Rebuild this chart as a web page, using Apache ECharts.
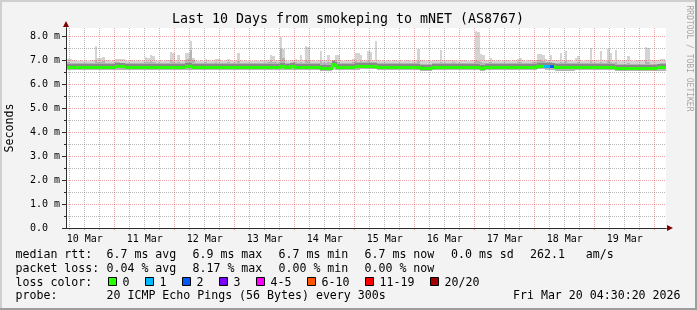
<!DOCTYPE html>
<html><head><meta charset="utf-8">
<script src="https://cdn.jsdelivr.net/npm/echarts@6/dist/echarts.min.js"></script>
<style>html,body{margin:0;padding:0;background:#f3f3f3;}#c{width:697px;height:310px;}</style>
</head><body><div id="c"></div><script>
// ---------- data (hours since Mar 10 00:00, one column per hour starting at 04:00) ----------
const startHour = 4;
const viewMin = 4 + 30 / 60 + 20 / 3600;   // Mar 10 04:30:20
const viewMax = viewMin + 240;             // Mar 20 04:30:20

const dayLabels = ['10 Mar','11 Mar','12 Mar','13 Mar','14 Mar','15 Mar','16 Mar','17 Mar','18 Mar','19 Mar'];
const dayLabelHours = [12,36,60,84,108,132,156,180,204,228];
const midnightHours = [24,48,72,96,120,144,168,192,216,240];
const yTickValues = [0,1,2,3,4,5,6,7,8];
const yMinorValues = [0.5,1.5,2.5,3.5,4.5,5.5,6.5,7.5];

// median rtt (ms)
const medianRtt = [
 6.70,6.70,6.70,6.70,6.70,6.70,6.70,6.70,6.70,6.70,6.70,6.70,6.70,6.70,6.70,6.70,6.70,6.70,6.70,6.70,
 6.71,6.71,6.71,6.71,6.70,6.70,6.70,6.70,6.70,6.70,6.70,6.70,6.70,6.70,6.70,6.70,6.70,6.70,6.70,6.70,6.70,6.70,6.70,6.70,
 6.70,6.70,6.70,6.70,6.71,6.71,6.72,6.70,6.70,6.70,6.70,6.70,6.70,6.70,6.70,6.70,6.70,6.70,6.70,6.70,6.70,6.70,6.70,6.70,
 6.70,6.70,6.70,6.70,6.70,6.70,6.70,6.70,6.70,6.70,6.70,6.70,6.70,6.70,6.70,6.70,6.70,6.70,6.72,6.72,6.70,6.70,6.72,6.72,
 6.70,6.70,6.70,6.70,6.70,6.70,6.68,6.68,6.68,6.68,6.65,6.65,6.65,6.65,6.65,6.82,6.77,6.70,6.70,6.70,6.70,6.70,6.70,6.70,
 6.71,6.72,6.75,6.75,6.75,6.75,6.75,6.75,6.74,6.70,6.70,6.70,6.70,6.70,6.70,6.70,6.70,6.70,6.70,6.70,6.70,6.70,6.70,6.70,
 6.70,6.70,6.64,6.64,6.64,6.64,6.64,6.69,6.69,6.69,6.69,6.69,6.69,6.69,6.69,6.69,6.69,6.69,6.69,6.69,6.69,6.69,6.69,6.69,
 6.69,6.69,6.65,6.65,6.70,6.70,6.70,6.70,6.70,6.70,6.70,6.70,6.70,6.70,6.70,6.70,6.70,6.70,6.70,6.70,6.70,6.70,6.70,6.70,
 6.70,6.74,6.74,6.74,6.71,6.71,6.71,6.71,6.68,6.68,6.68,6.68,6.68,6.68,6.68,6.68,6.69,6.69,6.69,6.69,6.69,6.69,6.69,6.69,
 6.69,6.69,6.69,6.69,6.69,6.69,6.69,6.69,6.65,6.65,6.65,6.65,6.65,6.65,6.65,6.65,6.65,6.65,6.65,6.65,6.65,6.65,6.65,6.65,
 6.66,6.67,6.67,6.67,6.67
];
// smoke: lowest ping, top of the dense band, highest ping (ms)
const smokeLow = [
 6.58,6.58,6.57,6.58,6.58,6.57,6.58,6.58,6.57,6.58,6.58,6.57,6.58,6.58,6.57,6.58,6.58,6.57,6.58,6.58,
 6.58,6.57,6.58,6.58,6.57,6.58,6.58,6.57,6.58,6.58,6.57,6.58,6.58,6.57,6.58,6.58,6.57,6.58,6.58,6.57,6.58,6.58,6.57,6.58,
 6.58,6.57,6.58,6.58,6.57,6.58,6.58,6.57,6.58,6.58,6.57,6.58,6.58,6.57,6.58,6.58,6.57,6.58,6.58,6.57,6.58,6.58,6.57,6.58,
 6.58,6.57,6.58,6.58,6.57,6.58,6.58,6.57,6.58,6.58,6.57,6.58,6.58,6.57,6.58,6.58,6.57,6.58,6.58,6.57,6.58,6.58,6.57,6.58,
 6.58,6.57,6.58,6.58,6.57,6.58,6.58,6.57,6.58,6.57,6.55,6.54,6.55,6.54,6.55,6.62,6.60,6.58,6.57,6.58,6.58,6.57,6.58,6.58,
 6.58,6.58,6.62,6.62,6.62,6.62,6.62,6.62,6.62,6.58,6.57,6.58,6.58,6.57,6.58,6.58,6.57,6.58,6.58,6.57,6.58,6.58,6.57,6.58,
 6.58,6.57,6.53,6.53,6.53,6.53,6.53,6.57,6.58,6.58,6.57,6.58,6.58,6.57,6.58,6.58,6.57,6.58,6.58,6.57,6.58,6.58,6.57,6.58,
 6.58,6.57,6.54,6.54,6.58,6.57,6.58,6.58,6.57,6.58,6.58,6.57,6.58,6.58,6.57,6.58,6.58,6.57,6.58,6.58,6.57,6.58,6.58,6.57,
 6.58,6.61,6.61,6.61,6.59,6.59,6.59,6.59,6.56,6.56,6.56,6.56,6.56,6.56,6.56,6.56,6.57,6.57,6.57,6.57,6.57,6.57,6.57,6.57,
 6.57,6.57,6.57,6.57,6.57,6.57,6.57,6.57,6.54,6.54,6.54,6.54,6.54,6.54,6.54,6.54,6.54,6.54,6.54,6.54,6.54,6.54,6.54,6.54,
 6.55,6.55,6.55,6.55,6.55
];
const smokeUpper = [
 6.90,6.90,6.89,6.89,6.88,6.89,6.88,6.89,6.88,6.89,6.88,6.89,7.00,6.92,6.92,6.95,6.89,6.88,6.89,6.88,
 6.90,6.90,6.89,6.89,6.88,6.89,6.88,6.89,6.88,6.89,6.88,6.89,6.92,6.90,6.95,6.92,6.88,6.89,6.88,6.89,6.88,6.89,6.98,6.92,
 6.89,6.92,6.88,6.89,6.98,7.05,7.40,6.98,6.89,6.88,6.89,6.88,6.90,6.88,6.89,6.88,6.90,6.89,6.88,6.89,6.88,6.90,6.88,6.89,
 6.89,6.95,6.88,6.89,6.88,6.89,6.88,6.89,6.88,6.89,6.88,6.89,6.88,6.90,6.98,6.92,6.90,6.89,7.45,7.10,6.89,6.88,6.89,6.90,
 6.90,6.89,6.92,6.88,7.00,6.95,6.88,6.87,6.86,6.86,6.95,6.86,6.86,6.90,6.87,6.98,6.98,6.92,6.89,6.88,6.89,6.88,6.89,6.90,
 6.95,6.92,6.95,6.93,6.92,6.95,6.93,6.92,6.93,6.89,6.88,6.89,6.88,6.89,6.88,6.89,6.88,6.89,6.88,6.89,6.88,6.89,6.88,6.89,
 6.89,6.95,6.85,6.84,6.84,6.85,6.84,6.88,6.89,6.88,6.92,6.89,6.88,6.89,6.88,6.90,6.88,6.89,6.88,6.89,6.88,6.89,6.88,6.89,
 7.00,6.95,6.90,6.88,6.89,6.88,6.90,6.88,6.89,6.88,6.89,6.88,6.89,6.88,6.89,6.88,6.89,6.90,6.92,6.88,6.89,6.88,6.89,6.90,
 6.90,6.98,6.98,6.95,6.92,6.90,6.92,6.89,6.87,6.87,6.92,6.86,6.95,6.87,6.86,6.87,6.88,6.90,6.88,6.87,6.88,6.87,6.95,6.87,
 6.88,6.87,6.92,6.87,6.88,6.95,6.90,6.87,6.90,6.85,6.84,6.85,6.84,6.88,6.85,6.84,6.85,6.84,6.85,6.84,6.98,6.92,6.85,6.84,
 6.85,6.85,6.88,6.88,6.86
];
const smokeMax = [
 7.03,7.03,7.03,7.02,6.98,6.97,6.98,6.96,6.98,6.97,6.98,6.99,7.58,7.10,7.10,7.14,7.00,6.98,6.97,6.98,
 7.06,7.06,7.06,7.05,6.98,6.97,6.99,6.98,6.96,6.98,6.97,6.99,7.12,7.10,7.20,7.18,6.98,6.97,6.98,6.96,6.98,6.99,7.34,7.30,
 6.98,7.20,6.99,6.98,7.30,7.28,7.80,7.10,6.98,6.97,6.98,6.97,7.05,6.98,6.96,6.98,7.05,7.05,6.98,6.97,6.99,7.05,6.98,6.97,
 6.98,7.30,6.99,6.97,6.98,6.96,6.95,6.97,6.98,6.97,6.98,6.99,6.98,7.00,7.20,7.18,7.00,6.99,7.95,7.45,6.98,6.97,6.99,6.98,
 7.05,6.99,7.20,6.98,7.60,7.55,6.99,6.98,6.97,6.98,7.37,6.98,6.99,7.20,6.98,7.00,7.22,7.20,6.98,6.97,6.98,6.99,6.98,7.05,
 7.30,7.28,7.22,7.00,6.98,7.36,7.34,6.99,7.78,6.98,6.97,6.98,6.96,6.98,6.97,6.98,6.99,6.97,6.98,6.96,6.98,6.99,6.97,6.98,
 6.99,7.47,7.00,6.98,6.97,6.98,6.96,6.98,6.99,6.98,7.40,6.99,6.98,7.00,6.99,7.01,6.98,6.97,6.98,7.00,6.98,6.97,6.98,7.00,
 8.20,8.18,7.24,7.20,6.98,6.99,7.08,6.98,6.97,6.98,6.96,6.98,7.02,6.98,6.97,6.98,6.99,7.05,7.10,6.98,6.97,6.99,6.98,7.00,
 7.02,7.26,7.26,7.20,7.05,6.99,7.20,7.00,6.98,6.99,7.30,6.98,7.37,7.00,6.98,6.97,7.10,7.15,6.98,6.97,6.98,6.99,7.48,6.98,
 6.99,6.98,7.39,7.00,6.98,7.44,7.30,6.99,7.42,6.98,6.97,6.98,7.00,7.17,6.98,6.97,6.98,7.00,6.99,6.98,7.55,7.50,6.99,6.98,
 6.98,6.99,7.05,7.05,6.98
];
// hours with lost pings and number lost (of 20)
const lossHours = [196,197,198,199];
const lossCounts = [1,1,2,2];

// legend
const lossLabels = ['0','1','2','3','4-5','6-10','11-19','20/20'];
const lossColors = ['#26ff00','#00b8ff','#0059ff','#7e00ff','#ff00ff','#ff5500','#ff0000','#a00000'];
const titleText = 'Last 10 Days from smokeping to mNET (AS8767)';
const rttStats = ['6.7 ms avg','6.9 ms max','6.7 ms min','6.7 ms now','0.0 ms sd','262.1   am/s'];
const lossStats = ['0.04 % avg','8.17 % max','0.00 % min','0.00 % now'];
const probeText = '20 ICMP Echo Pings (56 Bytes) every 300s';
const dateText = 'Fri Mar 20 04:30:20 2026';

// ---------- chart ----------
const MONO = '"DejaVu Sans Mono", monospace';
const FS = 11.6;     // legend / unit font
const AFS = 10;      // axis font
const sixHourMarks = [];
for (let h = 6; h < 245; h += 6) if (h % 24 !== 0) sixHourMarks.push(h);

function bucket(n) {
  if (n <= 0) return 0; if (n === 1) return 1; if (n === 2) return 2; if (n === 3) return 3;
  if (n <= 5) return 4; if (n <= 10) return 5; if (n <= 19) return 6; return 7;
}
const smokeData = smokeMax.map((mx, i) => [startHour + i, smokeLow[i], smokeUpper[i], mx]);
const medianData = medianRtt.map((v, i) => {
  const k = lossHours.indexOf(startHour + i);
  return [startHour + i, v, k >= 0 ? lossCounts[k] : 0, i > 0 ? medianRtt[i - 1] : v];
});

const MINOR = 'rgba(140,140,140,0.6)';
const MAJOR = 'rgba(220,60,60,0.45)';
const AXIS = '#2c2c2c';
const R = Math.round;
const baseX = {type: 'value', min: viewMin, max: viewMax, gridIndex: 0, position: 'bottom', offset: 0,
  axisLine: {show: false}, axisTick: {show: false}, axisLabel: {show: false}, splitLine: {show: false}};
const baseY = {type: 'value', min: 0, max: 25 / 3, gridIndex: 0, position: 'left', offset: 0,
  axisLine: {show: false}, axisTick: {show: false}, axisLabel: {show: false}, splitLine: {show: false}};

function txt(x, y, text, extra) {
  return Object.assign({type: 'text', x, y, silent: true, z: 10,
    style: Object.assign({text, fontFamily: MONO, fontSize: FS, fill: '#000', align: 'left', verticalAlign: 'middle'}, extra || {})});
}
const graphics = [
  {type: 'rect', shape: {x: 0, y: 0, width: 697, height: 2}, style: {fill: '#cfcfcf'}, silent: true},
  {type: 'rect', shape: {x: 0, y: 0, width: 2, height: 310}, style: {fill: '#cfcfcf'}, silent: true},
  {type: 'rect', shape: {x: 0, y: 308, width: 697, height: 2}, style: {fill: '#9e9e9e'}, silent: true},
  {type: 'rect', shape: {x: 695, y: 0, width: 2, height: 310}, style: {fill: '#9e9e9e'}, silent: true},
  txt(348, 19.9, titleText, {fontSize: 13.3, align: 'center'}),
  Object.assign(txt(10.3, 128, 'Seconds', {align: 'center'}), {rotation: Math.PI / 2}),
  Object.assign(txt(689, 58.5, 'RRDTOOL / TOBI OETIKER', {align: 'center', fontSize: 8, fill: '#a6a6a6'}), {rotation: -Math.PI / 2}),
  txt(15.5, 254.5, 'median rtt:'),
  txt(15.5, 269.3, 'packet loss:'),
  txt(15.5, 282.8, 'loss color:'),
  txt(15.5, 296.3, 'probe:'),
  txt(106.5, 296.3, probeText),
  txt(680.5, 296.3, dateText, {align: 'right'})
];
const statX = [106.5, 192.5, 278.5, 364.5, 451, 530];
rttStats.forEach((s, i) => graphics.push(txt(statX[i], 254.5, s)));
lossStats.forEach((s, i) => graphics.push(txt(statX[i], 269.3, s)));
const boxX = [108.5, 145.5, 182.5, 219.5, 256.5, 307.5, 365.5, 430.5];
lossLabels.forEach((l, i) => {
  graphics.push({type: 'rect', silent: true, z: 10, shape: {x: boxX[i], y: 277.5, width: 8, height: 8},
    style: {fill: lossColors[i], stroke: '#000', lineWidth: 1}});
  graphics.push(txt(boxX[i] + 14, 282.8, l));
});

const option = {
  animation: false,
  backgroundColor: '#f3f3f3',
  textStyle: {fontFamily: MONO},
  grid: {left: 66, top: 28, width: 600, height: 200, show: true, backgroundColor: '#ffffff', borderWidth: 0, containLabel: false},
  xAxis: [
    Object.assign({}, baseX, {z: 4, axisLine: {show: true, onZero: false, lineStyle: {color: AXIS, width: 1}}}),
    Object.assign({}, baseX, {z: 2, axisTick: {show: true, customValues: sixHourMarks, length: 2, lineStyle: {color: MINOR}},
      splitLine: {show: true, lineStyle: {color: MINOR, type: [1, 1], width: 1}}}),
    Object.assign({}, baseX, {z: 2, axisTick: {show: true, customValues: midnightHours, length: 2, lineStyle: {color: MAJOR}},
      splitLine: {show: true, lineStyle: {color: MAJOR, type: [1, 1], width: 1}}}),
    Object.assign({}, baseX, {z: 4, axisLabel: {show: true, customValues: dayLabelHours, margin: 11.4, verticalAlign: 'middle',
      fontFamily: MONO, fontSize: AFS, color: '#000', formatter: v => dayLabels[dayLabelHours.indexOf(Math.round(v))] || ''}}),
    Object.assign({}, baseX, {z: 3, axisLine: {show: true, onZero: false, symbol: ['none', 'triangle'], symbolSize: [6, 6], symbolOffset: [0, 4],
      lineStyle: {color: '#7f0000', width: 1}}})
  ],
  yAxis: [
    Object.assign({}, baseY, {z: 4, axisLine: {show: true, onZero: false, lineStyle: {color: AXIS, width: 1}},
      axisTick: {show: true, customValues: yTickValues, length: 4, lineStyle: {color: AXIS}},
      axisLabel: {show: true, customValues: yTickValues, align: 'left', margin: 36, fontFamily: MONO, fontSize: AFS, color: '#000',
        formatter: v => v === 0 ? '0.0' : v.toFixed(1) + ' m'}}),
    Object.assign({}, baseY, {z: 2, axisTick: {show: false, customValues: yTickValues.slice(1)},
      splitLine: {show: true, lineStyle: {color: MAJOR, type: [1, 1], width: 1}}}),
    Object.assign({}, baseY, {z: 2, axisTick: {show: true, customValues: yMinorValues, length: 2, lineStyle: {color: AXIS}},
      splitLine: {show: true, lineStyle: {color: MINOR, type: [1, 1], width: 1}}}),
    Object.assign({}, baseY, {z: 3, axisLine: {show: true, onZero: false, symbol: ['none', 'triangle'], symbolSize: [6, 6], symbolOffset: [0, 4],
      lineStyle: {color: '#7f0000', width: 1}}})
  ],
  series: [
    {
      type: 'custom', name: 'smoke', xAxisIndex: 0, yAxisIndex: 0, z: 1, silent: true, clip: true,
      data: smokeData,
      renderItem(params, api) {
        const h = api.value(0);
        const lo = api.coord([h, api.value(1)]);
        const up = api.coord([h + 1, api.value(2)]);
        const mx = api.coord([h + 1, api.value(3)]);
        const x0 = R(lo[0]), x1 = R(mx[0]), yb = R(lo[1]);
        return {type: 'group', children: [
          {type: 'rect', shape: {x: x0, y: R(mx[1]), width: x1 - x0, height: yb - R(mx[1])}, style: {fill: '#d4d4d4'}},
          {type: 'rect', shape: {x: x0, y: R(up[1]), width: x1 - x0, height: yb - R(up[1])}, style: {fill: '#b4b4b4'}}
        ]};
      }
    },
    {
      type: 'custom', name: 'median rtt', xAxisIndex: 0, yAxisIndex: 0, z: 3, silent: true, clip: true,
      data: medianData,
      renderItem(params, api) {
        const h = api.value(0), v = api.value(1), prev = api.value(3);
        const color = lossColors[bucket(api.value(2))];
        const a = api.coord([h, v]), b = api.coord([h + 1, v]);
        const x0 = R(a[0]), x1 = R(b[0]), y0 = R(a[1] - 1.5);
        const kids = [
          {type: 'rect', shape: {x: x0, y: y0 - 2, width: x1 - x0, height: 2}, style: {fill: '#8a8a8a'}},
          {type: 'rect', shape: {x: x0, y: y0, width: x1 - x0, height: 3}, style: {fill: color}}
        ];
        if (Math.abs(prev - v) > 0.015) {
          const p = api.coord([h, prev]);
          const py = R(p[1] - 1.5);
          kids.push({type: 'rect', shape: {x: x0 - 1, y: Math.min(py, y0), width: 2, height: Math.abs(py - y0) + 3}, style: {fill: color}});
        }
        return {type: 'group', children: kids};
      }
    }
  ],
  graphic: graphics
};
const chart = echarts.init(document.getElementById('c'), null, {renderer: 'canvas'});
chart.setOption(option);
</script></body></html>
